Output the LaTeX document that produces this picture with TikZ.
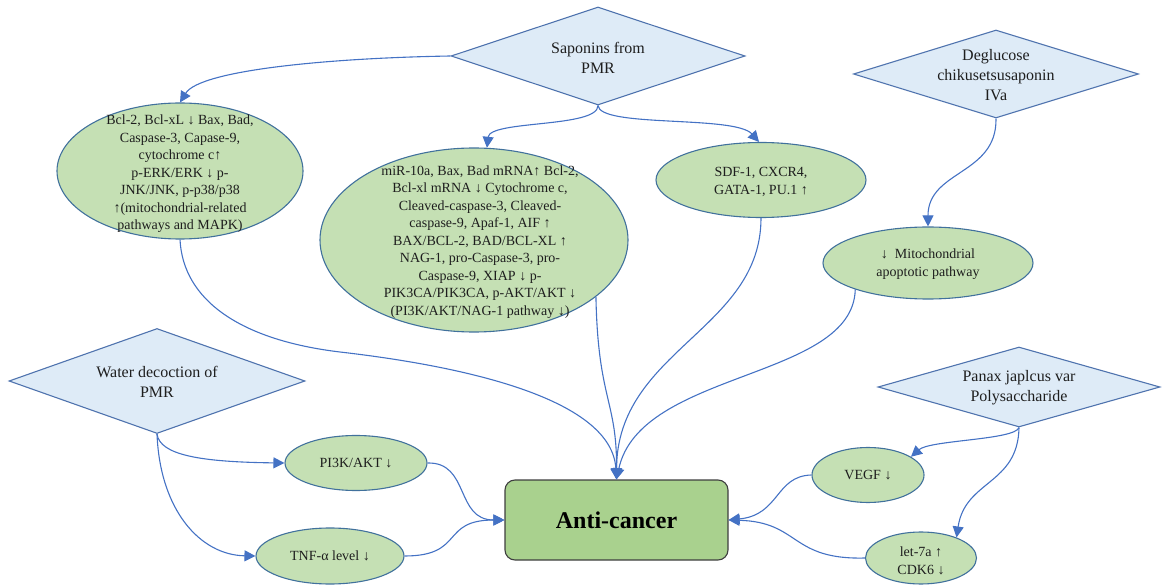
\documentclass[tikz,border=0pt]{standalone}
\usepackage{fontspec}
\setmainfont{Liberation Serif}
\usetikzlibrary{shapes.geometric,arrows.meta}
\definecolor{dfill}{HTML}{DEEBF7}
\definecolor{dline}{HTML}{4F73AE}
\definecolor{efill}{HTML}{C5E0B4}
\definecolor{eline}{HTML}{41719C}
\definecolor{cline}{HTML}{4472C4}
\definecolor{afill}{HTML}{A9D18E}
\definecolor{aline}{HTML}{3F3F3F}
\definecolor{tcol}{HTML}{1E1E1E}
\begin{document}
\begin{tikzpicture}[x=1pt,y=-1pt,
  dia/.style={diamond, draw=dline, fill=dfill, line width=1.1pt, inner sep=0pt},
  dtxt/.style={align=center, inner sep=0pt, text=tcol, font=\fontsize{16}{20}\selectfont},
  ell/.style={ellipse, draw=eline, fill=efill, line width=1.1pt, inner sep=0pt},
  etxt/.style={align=center, inner sep=0pt, text=tcol, font=\fontsize{14}{17.5}\selectfont},
  conn/.style={draw=cline, line width=1.1pt, -{Triangle[width=11pt,length=11pt]}},
]
\useasboundingbox (0,0) rectangle (1168,585);

% diamonds
\node[dia, minimum width=294pt, minimum height=98pt] (sap) at (598,56) {};
\node[dtxt] (sapT) at (598,58) {Saponins from\\PMR};
\node[dia, minimum width=285pt, minimum height=88pt] (deg) at (996,74) {};
\node[dtxt] (degT) at (996,75) {Deglucose\\chikusetsusaponin\\IVa};
\node[dia, minimum width=296pt, minimum height=105pt] (wat) at (157,381) {};
\node[dtxt] (watT) at (157,382) {Water decoction of\\PMR};
\node[dia, minimum width=282pt, minimum height=80pt] (pan) at (1019,387) {};
\node[dtxt] (panT) at (1019,388) {Panax japlcus var\\Polysaccharide};

% ellipses
\node[ell, minimum width=246pt, minimum height=136pt] (bcl) at (180,171) {};
\node[etxt] (bclT) at (180,174) {Bcl-2, Bcl-xL ↓ Bax, Bad,\\Caspase-3, Capase-9,\\cytochrome c↑\\p-ERK/ERK ↓ p-\\JNK/JNK, p-p38/p38\\↑(mitochondrial-related\\pathways and MAPK)};
\node[ell, minimum width=308pt, minimum height=184pt] (big) at (474,240) {};
\node[etxt] (bigT) at (480,242) {miR-10a, Bax, Bad mRNA↑ Bcl-2,\\Bcl-xl mRNA ↓ Cytochrome c,\\Cleaved-caspase-3, Cleaved-\\caspase-9, Apaf-1, AIF ↑\\BAX/BCL-2, BAD/BCL-XL ↑\\NAG-1, pro-Caspase-3, pro-\\Caspase-9, XIAP ↓ p-\\PIK3CA/PIK3CA, p-AKT/AKT ↓\\(PI3K/AKT/NAG-1 pathway ↓)};
\node[ell, minimum width=210pt, minimum height=75pt] (sdf) at (761,180) {};
\node[etxt] (sdfT) at (761,182) {SDF-1, CXCR4,\\GATA-1, PU.1 ↑};
\node[ell, minimum width=210pt, minimum height=72pt] (mito) at (928,263) {};
\node[etxt] (mitoT) at (928,264) {↓\ \ Mitochondrial\\apoptotic pathway};
\node[ell, minimum width=142pt, minimum height=55pt] (pik) at (356,463) {};
\node[etxt] (pikT) at (356,463) {PI3K/AKT ↓};
\node[ell, minimum width=148pt, minimum height=56pt] (tnf) at (330,556) {};
\node[etxt] (tnfT) at (330,556) {TNF-α level ↓};
\node[ell, minimum width=112pt, minimum height=55pt] (vegf) at (868,475) {};
\node[etxt] (vegfT) at (868,475) {VEGF ↓};
\node[ell, minimum width=111pt, minimum height=52pt] (let) at (921,558) {};
\node[etxt, font=\fontsize{14}{18}\selectfont] (letT) at (921,561) {let-7a ↑\\CDK6 ↓};

% central box
\node[draw=aline, fill=afill, line width=1.1pt, rounded corners=10pt,
      minimum width=223pt, minimum height=80pt, inner sep=0pt,
      font=\fontsize{24}{28}\selectfont\bfseries] (anti) at (616.5,520) {Anti-cancer};

% connectors
\draw[conn] (sap.west) .. controls (330,58) and (200,70) .. (bcl.north);
\draw[conn] (sap.south) .. controls (598,128) and (490,120) .. (big.82);
\draw[conn] (sap.south) .. controls (600,128) and (735,115) .. (sdf.93);
\draw[conn] (deg.south) .. controls (997,175) and (928,170) .. (mito.north);
\draw[conn] (bcl.south) .. controls (183,300) and (240,340) .. (340,352)
                        .. controls (470,367) and (612,400) .. (anti.north);
\draw[conn] (big.-25) .. controls (598,400) and (617,400) .. (anti.north);
\draw[conn] (sdf.south) .. controls (761,330) and (617,350) .. (anti.north);
\draw[conn] (mito.200) .. controls (853,380) and (640,370) .. (anti.north);
\draw[conn] (wat.south) .. controls (160,455) and (200,462) .. (pik.west);
\draw[conn] (wat.south) .. controls (160,510) and (200,555) .. (tnf.west);
\draw[conn] (pik.east) .. controls (470,462) and (455,520) .. (anti.west);
\draw[conn] (tnf.east) .. controls (465,556) and (440,520) .. (anti.west);
\draw[conn] (pan.south) .. controls (1015,440) and (930,440) .. (vegf.23);
\draw[conn] (pan.south) .. controls (1018,485) and (965,480) .. (let.30);
\draw[conn] (vegf.west) .. controls (775,476) and (780,515) .. (anti.east);
\draw[conn] (let.west) .. controls (790,560) and (800,522) .. (anti.east);
\end{tikzpicture}
\end{document}
